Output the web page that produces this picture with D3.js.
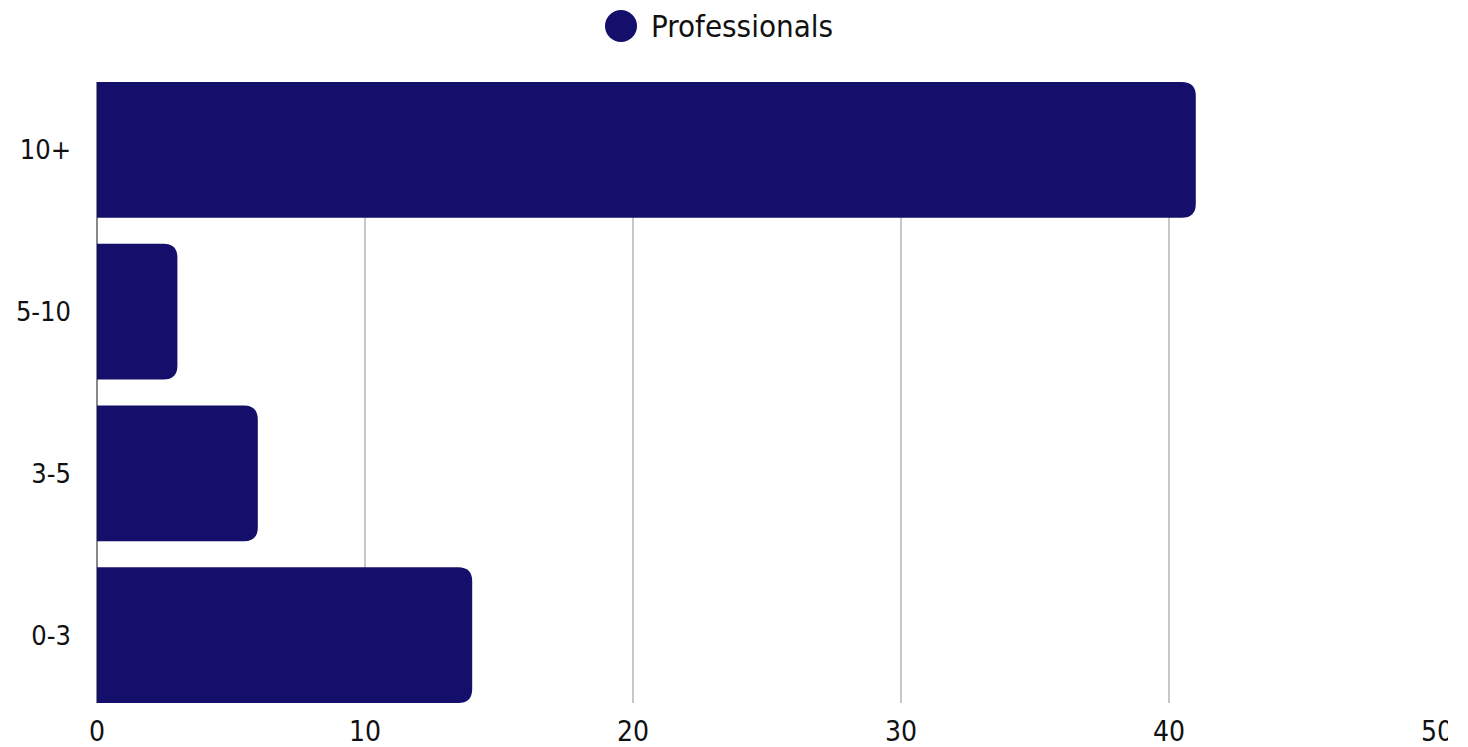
<!DOCTYPE html>
<meta charset="utf-8">
<script src="https://d3js.org/d3.v7.min.js"></script>
<style>
  body { margin: 0; background: #fff; }
  text { fill: #111; font-family: "DejaVu Sans Condensed", "DejaVu Sans", sans-serif; }
</style>
<body>
<div id="chart"></div>
<script>

// data
var categories = ["10+", "5-10", "3-5", "0-3"];
var professionals = [41, 3, 6, 14];
var xTicks = [0, 10, 20, 30, 40, 50];
var seriesName = "Professionals";

// canvas is a bit narrower than the window, so the last tick label gets cut
const full_width = 1448;
const full_height = 747;
var margin = {top: 82, right: 11, bottom: 44, left: 97},
    width = full_width - margin.left - margin.right,
    height = full_height - margin.top - margin.bottom;

var barColor = "#140f6a";

var svg = d3.select("#chart")
  .append("svg")
    .attr("width", full_width)
    .attr("height", full_height)
  .append("g")
    .attr("transform", "translate(" + margin.left + "," + margin.top + ")");

var x = d3.scaleLinear().domain([0, 50]).range([0, width]);
var y = d3.scaleBand().domain(categories).range([0, height]).paddingInner(0.16).paddingOuter(0);

// gridlines (none drawn at the max tick)
svg.append("g")
  .selectAll("line")
  .data(xTicks.slice(0, -1))
  .enter()
  .append("line")
    .attr("x1", function(d) { return x(d); })
    .attr("x2", function(d) { return x(d); })
    .attr("y1", 0)
    .attr("y2", height)
    .attr("stroke", function(d) { return d === 0 ? "#888" : "#c8c8c8"; })
    .attr("stroke-width", 2);

// bars, rounded on the right end only
var r = 14;
svg.append("g")
  .selectAll("path")
  .data(categories)
  .enter()
  .append("path")
    .attr("fill", barColor)
    .attr("d", function(d, i) {
      var x0 = x(0), x1 = x(professionals[i]), y0 = y(d), h = y.bandwidth();
      var rr = Math.min(r, (x1 - x0) / 2);
      return "M" + x0 + "," + y0 +
        "H" + (x1 - rr) +
        "Q" + x1 + "," + y0 + " " + x1 + "," + (y0 + rr) +
        "V" + (y0 + h - rr) +
        "Q" + x1 + "," + (y0 + h) + " " + (x1 - rr) + "," + (y0 + h) +
        "H" + x0 + "Z";
    });

// y labels
svg.append("g")
  .selectAll("text")
  .data(categories)
  .enter()
  .append("text")
    .attr("x", -26)
    .attr("y", function(d) { return y(d) + y.bandwidth() / 2; })
    .attr("dy", "0.35em")
    .attr("text-anchor", "end")
    .style("font-size", "27px")
    .text(function(d) { return d; });

// x labels
svg.append("g")
  .selectAll("text")
  .data(xTicks)
  .enter()
  .append("text")
    .attr("x", function(d) { return x(d); })
    .attr("y", height + 38)
    .attr("text-anchor", "middle")
    .style("font-size", "28px")
    .text(function(d) { return d; });

// legend
var legend = d3.select("svg").append("g");
legend.append("circle")
  .attr("cx", 621)
  .attr("cy", 26)
  .attr("r", 16)
  .attr("fill", barColor);
legend.append("text")
  .attr("x", 651)
  .attr("y", 26)
  .attr("dy", "0.35em")
  .style("font-size", "31px")
  .text(seriesName);

</script>
</body>
